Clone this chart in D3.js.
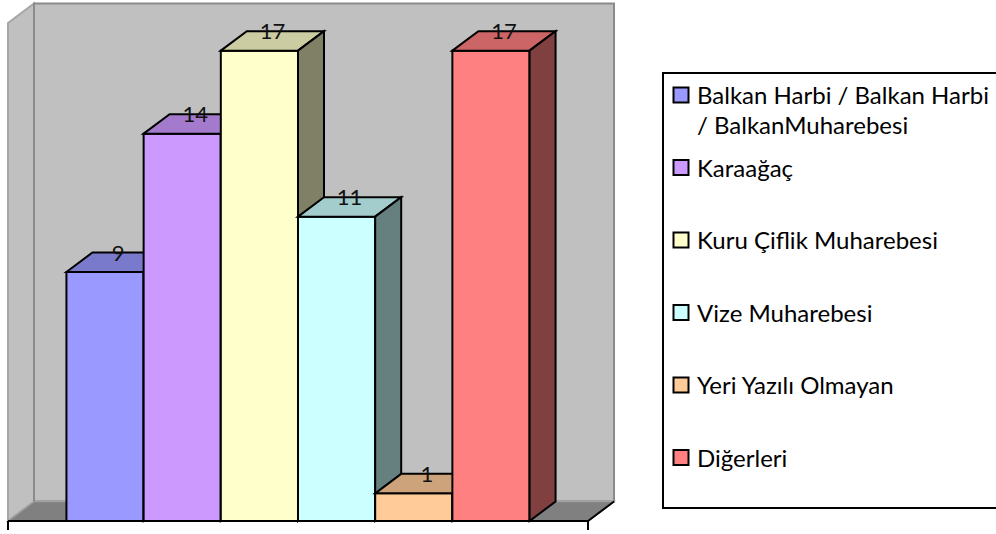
<!DOCTYPE html>
<html><head><meta charset="utf-8">
<script src="https://cdn.jsdelivr.net/npm/d3@7"></script>
<style>html,body{margin:0;padding:0;background:#fff;}svg{display:block;}</style>
</head><body>
<svg id="chart" width="996" height="534"></svg>
<script>
// ---- data ----
const seriesNames = ["Balkan Harbi / Balkan Harbi / BalkanMuharebesi", "Karaağaç", "Kuru Çiflik Muharebesi", "Vize Muharebesi", "Yeri Yazılı Olmayan", "Diğerleri"];
const legendLines = [["Balkan Harbi / Balkan Harbi", "/ BalkanMuharebesi"], ["Karaağaç"], ["Kuru Çiflik Muharebesi"], ["Vize Muharebesi"], ["Yeri Yazılı Olmayan"], ["Diğerleri"]];
const values = [9, 14, 17, 11, 1, 17];
const colors = ["#9999FF", "#CC99FF", "#FFFFCC", "#CCFFFF", "#FFCC99", "#FF8080"];
const yMax = 18;

// ---- layout ----
const svg = d3.select("#chart");
const x0 = 8, x1 = 588, yBase = 521, yTop = 23;
const dx = 26, dy = 19.5;
const font = "Lato, 'Open Sans', sans-serif";

const y = d3.scaleLinear().domain([0, yMax]).range([yBase, yTop]);
const x = d3.scaleBand().domain(seriesNames).range([x0, x1]).paddingInner(0).paddingOuter(0.757);

function shade(c, k) { const r = d3.rgb(c); return d3.rgb(r.r * k, r.g * k, r.b * k).formatHex(); }
const poly = pts => pts.map(p => p.join(",")).join(" ");

// walls
const yB = y(yMax);
svg.append("polygon") // side wall
  .attr("points", poly([[x0, yB], [x0 + dx, yB - dy], [x0 + dx, yBase - dy], [x0, yBase]]))
  .attr("fill", "#C0C0C0").attr("stroke", "#A6A6A6").attr("stroke-width", 2);
svg.append("polygon") // back wall
  .attr("points", poly([[x0 + dx, yB - dy], [x1 + dx, yB - dy], [x1 + dx, yBase - dy], [x0 + dx, yBase - dy]]))
  .attr("fill", "#C0C0C0").attr("stroke", "#8A8A8A").attr("stroke-width", 2);
svg.append("polygon") // floor
  .attr("points", poly([[x0, yBase], [x0 + dx, yBase - dy], [x1 + dx, yBase - dy], [x1, yBase]]))
  .attr("fill", "#808080").attr("stroke", "#A0A0A0").attr("stroke-width", 1.5);

// axis (front floor edge)
svg.append("path")
  .attr("d", `M${x0},${yBase}H${x1}L${x1 + dx},${yBase - dy}`)
  .attr("fill", "none").attr("stroke", "#000").attr("stroke-width", 2);
svg.selectAll(".tick").data([x0, x1]).enter().append("line")
  .attr("x1", d => d).attr("x2", d => d).attr("y1", yBase).attr("y2", yBase + 9)
  .attr("stroke", "#000").attr("stroke-width", 2);

// bars
const bars = svg.append("g").selectAll("g").data(seriesNames).enter().append("g");
bars.each(function (name, i) {
  const g = d3.select(this);
  const bx = x(name), bw = x.bandwidth(), ty = y(values[i]);
  const st = { stroke: "#000", "stroke-width": 2, "stroke-linejoin": "miter" };
  const faces = [
    [[bx, ty], [bx + bw, ty], [bx + bw, yBase], [bx, yBase]], colors[i],
    [[bx, ty], [bx + dx, ty - dy], [bx + bw + dx, ty - dy], [bx + bw, ty]], shade(colors[i], 0.8),
    [[bx + bw, ty], [bx + bw + dx, ty - dy], [bx + bw + dx, yBase - dy], [bx + bw, yBase]], shade(colors[i], 0.5)
  ];
  for (let k = 0; k < faces.length; k += 2) {
    const p = g.append("polygon").attr("points", poly(faces[k])).attr("fill", faces[k + 1]);
    Object.entries(st).forEach(([a, v]) => p.attr(a, v));
  }
});
// labels
svg.append("g").selectAll("text").data(seriesNames).enter().append("text")
  .attr("x", d => x(d) + x.bandwidth() / 2 + dx / 2)
  .attr("y", (d, i) => y(values[i]) - dy / 2 - 1.5)
  .attr("text-anchor", "middle")
  .attr("font-family", font).attr("font-size", 22).attr("fill", "#111")
  .text((d, i) => values[i]);

// legend
const lg = svg.append("g");
lg.append("rect").attr("x", 663).attr("y", 73).attr("width", 360).attr("height", 435)
  .attr("fill", "#fff").attr("stroke", "#000").attr("stroke-width", 2);
const items = lg.selectAll("g.item").data(seriesNames).enter().append("g");
items.append("rect")
  .attr("x", 673.5).attr("y", (d, i) => 104 + 72.5 * i - 9 - 7.5)
  .attr("width", 15).attr("height", 15)
  .attr("fill", (d, i) => colors[i]).attr("stroke", "#000").attr("stroke-width", 2);
items.append("text")
  .attr("font-family", font).attr("font-size", 24).attr("fill", "#000")
  .each(function (d, i) {
    const t = d3.select(this);
    legendLines[i].forEach((line, j) => {
      t.append("tspan").attr("x", 697).attr("y", 104 + 72.5 * i + 30 * j).text(line);
    });
  });
</script>
</body></html>
